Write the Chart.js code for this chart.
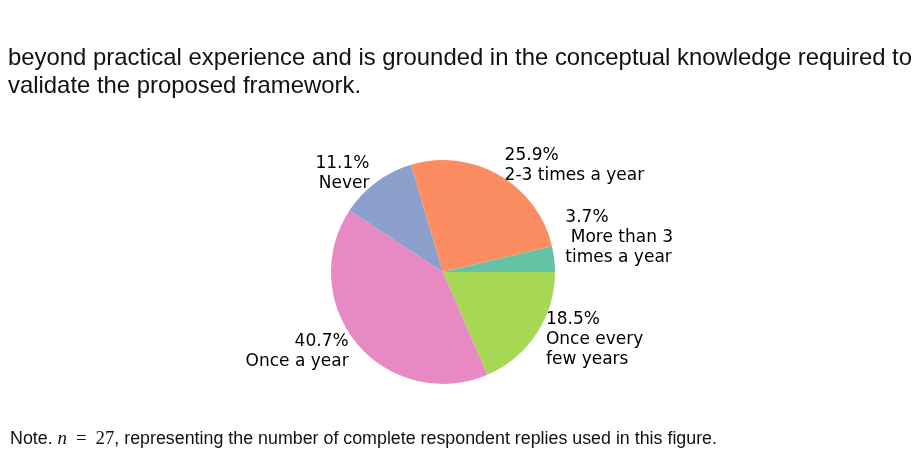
<!DOCTYPE html>
<html>
<head>
<meta charset="utf-8">
<script src="https://cdn.jsdelivr.net/npm/chart.js@4/dist/chart.umd.min.js"></script>
<style>
  html, body { margin: 0; padding: 0; background: #fff; }
  body { width: 920px; height: 455px; position: relative; overflow: hidden; }
  #c { position: absolute; left: 0; top: 0; }
  .line { position: absolute; font-family: "Liberation Sans", Arial, sans-serif; color: #111; white-space: nowrap; transform-origin: 0 0; }
  .para { left: 8px; font-size: 24px; line-height: 28px; }
  .note { left: 10px; top: 428px; font-size: 18px; line-height: 20px; }
  .m { font-family: "Liberation Serif", serif; font-size: 19px; }
  .eq { margin: 0 4px; }
  .mi { font-family: "Liberation Serif", serif; font-style: italic; font-size: 19px; }
</style>
</head>
<body>
<canvas id="c" width="920" height="455"></canvas>
<div class="line para" id="p1" style="top:43px" data-w="904">beyond practical experience and is grounded in the conceptual knowledge required to</div>
<div class="line para" id="p2" style="top:71px">validate the proposed framework.</div>
<div class="line note" id="n1" data-w="707">Note. <span class="mi">n</span> <span class="m eq">=</span> <span class="m">27</span>, representing the number of complete respondent replies used in this figure.</div>
<script>
// Data (matplotlib order: counterclockwise from 3 o'clock)
const categories = ['More than 3 times a year', '2-3 times a year', 'Never', 'Once a year', 'Once every few years'];
const labelLines = [[' More than 3', 'times a year'], ['2-3 times a year'], ['Never'], ['Once a year'], ['Once every', 'few years']];
const counts = [1, 7, 3, 11, 5];
const colors = ['#66c2a5', '#fc8d62', '#8da0cb', '#e78ac3', '#a6d854'];
// vertical offset in lines for each label block (trailing blank lines in source labels)
const lineShift = [-1, 0, 0, 0, 0];

// Fit text widths to the reference
const p1 = document.getElementById('p1');
const sx = p1.dataset.w / p1.getBoundingClientRect().width;
p1.style.transform = 'scaleX(' + sx + ')';
document.getElementById('p2').style.transform = 'scaleX(' + sx + ')';
const n1 = document.getElementById('n1');
n1.style.transform = 'scaleX(' + (n1.dataset.w / n1.getBoundingClientRect().width) + ')';

// Chart.js draws clockwise, so reverse the order to mimic counterclockwise.
const rev = a => a.slice().reverse();
const total = counts.reduce((a, b) => a + b, 0);

const labelPlugin = {
  id: 'pieLabels',
  afterDatasetsDraw(chart) {
    const ctx = chart.ctx;
    const meta = chart.getDatasetMeta(0);
    const n = counts.length;
    ctx.save();
    ctx.font = '17px "DejaVu Sans"';
    ctx.fillStyle = '#000';
    ctx.textBaseline = 'middle';
    meta.data.forEach((arc, i) => {
      const idx = n - 1 - i;
      const mid = (arc.startAngle + arc.endAngle) / 2;
      const r = arc.outerRadius * 1.1;
      const x = arc.x + r * Math.cos(mid);
      const y = arc.y + r * Math.sin(mid);
      const pct = (counts[idx] / total * 100).toFixed(1) + '%';
      const lines = [pct].concat(labelLines[idx]);
      const lh = 20;
      const left = Math.cos(mid) > 0;
      ctx.textAlign = left ? 'left' : 'right';
      const y0 = y - (lines.length - 1) * lh / 2 + lineShift[idx] * lh;
      lines.forEach((t, k) => ctx.fillText(t, x, y0 + k * lh));
    });
    ctx.restore();
  }
};

new Chart(document.getElementById('c'), {
  type: 'pie',
  data: {
    labels: rev(categories),
    datasets: [{
      data: rev(counts),
      backgroundColor: rev(colors),
      borderWidth: 0
    }]
  },
  options: {
    responsive: false,
    animation: false,
    rotation: 90,
    layout: { padding: { left: 331, right: 365, top: 160, bottom: 71 } },
    plugins: { legend: { display: false }, tooltip: { enabled: false } }
  },
  plugins: [labelPlugin]
});
</script>
</body>
</html>
